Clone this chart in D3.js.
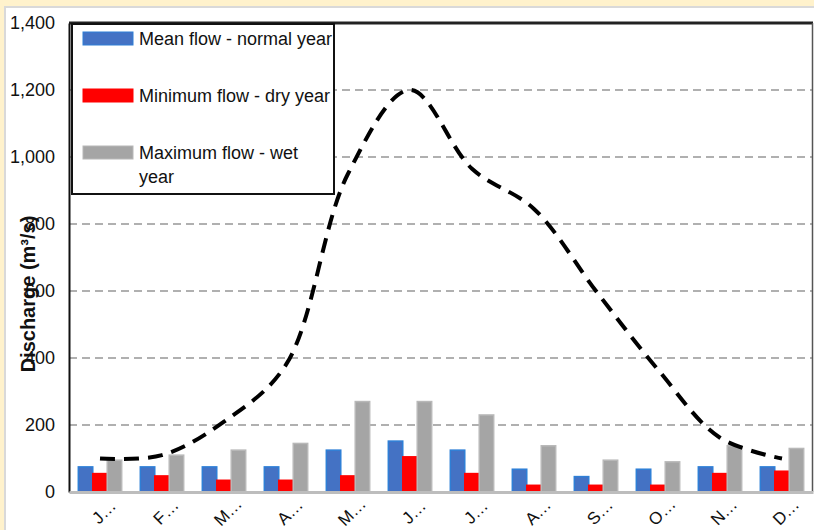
<html lang="en">
  <head>
    <meta charset="UTF-8" />
    <title>Monthly discharge</title>
    <script src="https://d3js.org/d3.v7.min.js"></script>
  </head>
  <style>
    body {
      margin: 0;
      background: #fff2cc;
    }
    svg {
      display: block;
      font-family: "Liberation Sans Narrow", "Liberation Sans", Arial, sans-serif;
    }
    .tick text {
      fill: #111;
    }
  </style>
  <body>
    <div id="viz"></div>
    <script>
      // monthly values (m3/s)
      var months = ["Jan", "Feb", "Mar", "Apr", "May", "Jun", "Jul", "Aug", "Sep", "Oct", "Nov", "Dec"];
      var meanFlow = [75, 75, 75, 75, 125, 152, 125, 68, 46, 68, 75, 75];
      var minFlow = [55, 48, 35, 35, 48, 105, 55, 20, 20, 20, 55, 62];
      var maxFlow = [95, 110, 125, 145, 270, 270, 230, 138, 95, 90, 138, 130];
      var floodFlow = [100, 110, 210, 380, 950, 1200, 965, 845, 600, 365, 162, 100];
      var yTicks = [0, 200, 400, 600, 800, 1000, 1200, 1400];

      var seriesNames = ["Mean flow - normal year", "Minimum flow - dry year", "Maximum flow - wet year"];
      var seriesColors = ["#4472c4", "#ff0000", "#a5a5a5"];
      var seriesStrokes = ["#2e7fd6", "#ff0000", "#b8b8b8"];

      var width = 814, height = 530;
      var margin = { top: 23, right: 1, bottom: 38, left: 69 };

      var svg = d3.select("#viz").append("svg")
        .attr("width", width)
        .attr("height", height);

      // frame: yellow page with a white card
      svg.append("rect")
        .attr("x", 5).attr("y", 7)
        .attr("width", width).attr("height", height)
        .attr("fill", "#fff")
        .attr("stroke", "#d9d9d9")
        .attr("stroke-width", 2);

      var x = d3.scaleBand()
        .domain(months)
        .range([margin.left, width - margin.right])
        .paddingInner(0.3)
        .paddingOuter(0.15);

      var xGroup = d3.scaleBand()
        .domain([0, 1, 2])
        .range([0, x.bandwidth()]);

      var y = d3.scaleLinear()
        .domain([0, 1400])
        .range([height - margin.bottom, margin.top]);

      // dashed gridlines
      svg.append("g")
        .selectAll("line")
        .data(yTicks.filter(function (d) { return d > 0 && d < 1400; }))
        .enter()
        .append("line")
        .attr("x1", margin.left)
        .attr("x2", width - margin.right)
        .attr("y1", function (d) { return y(d); })
        .attr("y2", function (d) { return y(d); })
        .attr("stroke", "#b0b0b0")
        .attr("stroke-width", 2)
        .attr("stroke-dasharray", "8,5");

      // plot border top / right
      svg.append("line")
        .attr("x1", margin.left).attr("x2", width - margin.right)
        .attr("y1", y(1400)).attr("y2", y(1400))
        .attr("stroke", "#222").attr("stroke-width", 3);
      svg.append("line")
        .attr("x1", width - 1.5).attr("x2", width - 1.5)
        .attr("y1", y(1400)).attr("y2", y(0))
        .attr("stroke", "#555").attr("stroke-width", 1.5);

      // bars
      var allSeries = [meanFlow, minFlow, maxFlow];
      allSeries.forEach(function (vals, si) {
        svg.append("g")
          .selectAll("rect")
          .data(vals)
          .enter()
          .append("rect")
          .attr("x", function (d, i) { return x(months[i]) + xGroup(si); })
          .attr("y", function (d) { return y(d); })
          .attr("width", xGroup.bandwidth())
          .attr("height", function (d) { return y(0) - y(d); })
          .attr("fill", seriesColors[si])
          .attr("stroke", seriesStrokes[si])
          .attr("stroke-width", 1.5);
      });

      // smoothed dashed line
      var line = d3.line()
        .x(function (d, i) { return x(months[i]) + x.bandwidth() / 2; })
        .y(function (d) { return y(d); })
        .curve(d3.curveCatmullRom.alpha(0.5));

      svg.append("path")
        .datum(floodFlow)
        .attr("d", line)
        .attr("fill", "none")
        .attr("stroke", "#000")
        .attr("stroke-width", 4)
        .attr("stroke-dasharray", "15,9");

      // y axis
      var yAxis = svg.append("g")
        .attr("transform", "translate(" + margin.left + ",0)")
        .call(d3.axisLeft(y).tickValues(yTicks).tickSize(0).tickPadding(14).tickFormat(d3.format(",")));
      yAxis.select(".domain").attr("stroke", "#111").attr("stroke-width", 2);
      yAxis.selectAll("text").style("font-size", "18px");

      // x axis
      var xAxis = svg.append("g")
        .attr("transform", "translate(0," + y(0) + ")")
        .call(d3.axisBottom(x).tickSize(0).tickFormat(function (d) { return d.charAt(0) + "\u2026"; }));
      xAxis.select(".domain").attr("stroke", "#bdbdbd").attr("stroke-width", 3);
      xAxis.selectAll("text")
        .style("font-size", "17px")
        .style("text-anchor", "middle")
        .attr("dy", null)
        .attr("y", 0)
        .attr("transform", "translate(8,24) rotate(-45)");

      // y axis title
      svg.append("text")
        .attr("transform", "translate(35,294) rotate(-90)")
        .attr("text-anchor", "middle")
        .style("font-size", "20px")
        .style("font-weight", "bold")
        .attr("fill", "#111")
        .text("Discharge (m\u00b3/s)");

      // legend
      var legend = svg.append("g");
      legend.append("rect")
        .attr("x", 72).attr("y", 24)
        .attr("width", 262).attr("height", 170)
        .attr("fill", "#fff")
        .attr("stroke", "#111")
        .attr("stroke-width", 2);

      var legendRows = [38, 95, 152];
      seriesNames.forEach(function (name, i) {
        legend.append("rect")
          .attr("x", 83).attr("y", legendRows[i] - 6)
          .attr("width", 50).attr("height", 13)
          .attr("fill", seriesColors[i])
          .attr("stroke", seriesStrokes[i]);
        var t = legend.append("text")
          .attr("x", 139).attr("y", legendRows[i] + 7)
          .style("font-size", "18px")
          .attr("fill", "#111");
        if (i === 2) {
          t.append("tspan").text("Maximum flow - wet");
          t.append("tspan").attr("x", 139).attr("dy", 24).text("year");
        } else {
          t.text(name);
        }
      });
    </script>
  </body>
</html>
